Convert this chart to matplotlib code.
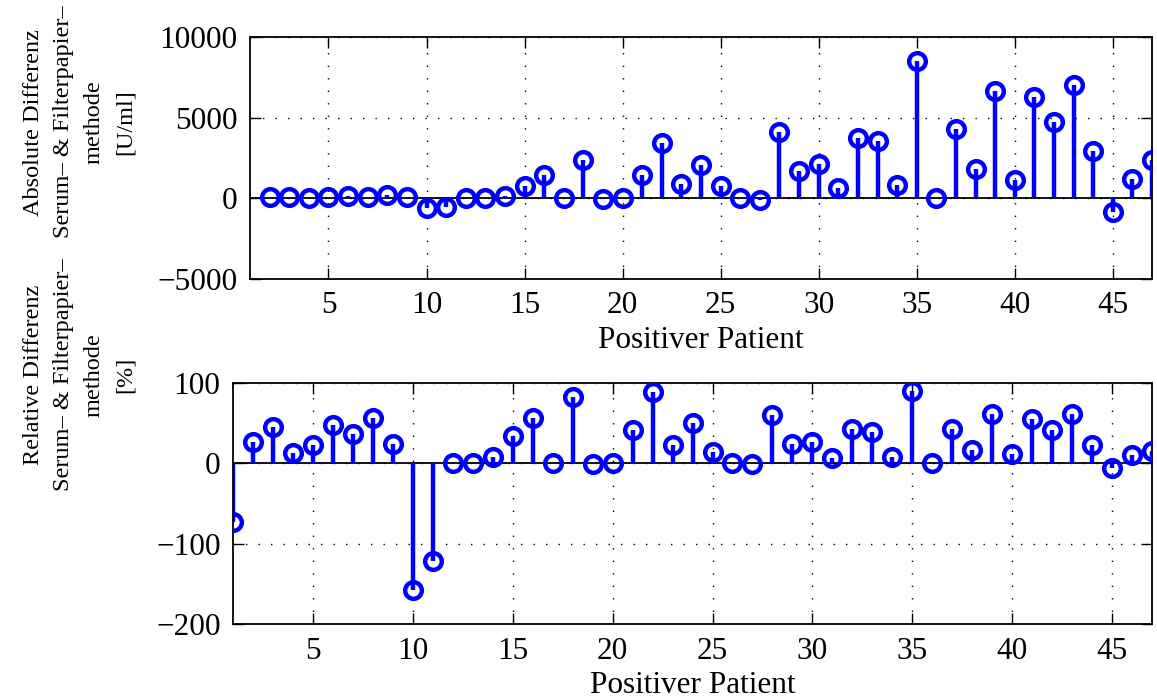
import numpy as np
import matplotlib
matplotlib.use("Agg")
import matplotlib.pyplot as plt

# patient numbers
patients = list(range(1, 48))

# absolute difference serum vs filter paper [U/ml], patient 1 has no value
abs_diff = [None, 60, 60, 20, 60, 145, 100, 200, 100, -600,
            -520, 30, 0, 160, 740, 1470, 0, 2400, -60, 0,
            1430, 3430, 910, 2070, 740, 20, -120, 4090, 1670, 2150,
            640, 3740, 3570, 800, 8530, 20, 4320, 1820, 6630, 1160,
            6260, 4710, 7040, 2910, -870, 1200, 2400]

# relative difference [%]
rel_diff = [-73, 27, 45, 13, 23, 48, 37, 56, 24, -158,
            -121, 0, 1, 8, 34, 56, 1, 83, -1, 0,
            41, 89, 23, 50, 14, 1, -1, 60, 24, 27,
            7, 43, 39, 8, 90, 1, 43, 17, 61, 11,
            55, 41, 61, 23, -6, 10, 15]

xticks = [5, 10, 15, 20, 25, 30, 35, 40, 45]

plt.rcParams['font.family'] = ['Liberation Serif', 'DejaVu Serif']
plt.rcParams['font.size'] = 22.5

fig = plt.figure(figsize=(11.57, 6.98), dpi=100)
ax1 = fig.add_axes([0.2161, 0.6003, 0.7796, 0.3467])
ax2 = fig.add_axes([0.2014, 0.1060, 0.7943, 0.3453])


def stem_plot(ax, x, y):
    x = np.asarray(x, dtype=float)
    y = np.array([np.nan if v is None else v for v in y], dtype=float)
    ok = ~np.isnan(y)
    ax.axhline(0, color='black', lw=1.3, zorder=1)
    ml, sl, bl = ax.stem(x[ok], y[ok], basefmt=' ')
    plt.setp(sl, color='#0000ff', linewidth=3.2, zorder=2)
    plt.setp(ml, color='#0000ff', marker='o', markersize=12,
             markerfacecolor='none', markeredgewidth=3.2, zorder=3)
    ax.set_xlim(1, 47)
    ax.set_xticks(xticks)
    ax.grid(True, linestyle=(0, (1, 8)), color='black', linewidth=1.0)
    ax.tick_params(direction='in', top=True, right=True, length=8,
                   width=1, pad=9)
    for s in ax.spines.values():
        s.set_linewidth(1.3)
    ax.set_xlabel('Positiver Patient', labelpad=4)


stem_plot(ax1, patients, abs_diff)
ax1.set_ylim(-5000, 10000)
ax1.set_yticks([-5000, 0, 5000, 10000])

stem_plot(ax2, patients, rel_diff)
ax2.set_ylim(-200, 100)
ax2.set_yticks([-200, -100, 0, 100])

fig.text(79 / 1157, 1 - 122 / 698,
         'Absolute Differenz\nSerum\u2013 & Filterpapier\u2013\nmethode\n[U/ml]',
         rotation=90, ha='center', va='center', multialignment='center',
         fontsize=17.5, linespacing=1.6)
fig.text(79 / 1157, 1 - 375 / 698,
         'Relative Differenz\nSerum\u2013 & Filterpapier\u2013\nmethode\n[%]',
         rotation=90, ha='center', va='center', multialignment='center',
         fontsize=17.5, linespacing=1.6)

fig.savefig('out.png', dpi=100)
